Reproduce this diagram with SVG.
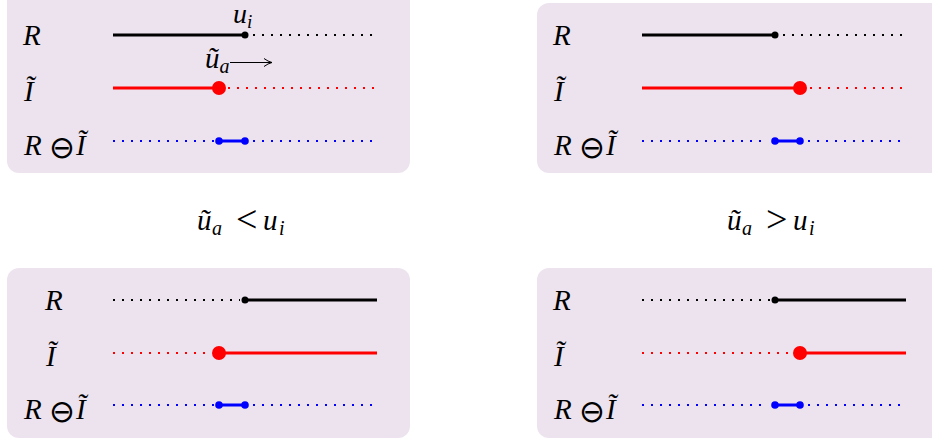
<svg xmlns="http://www.w3.org/2000/svg" width="932" height="442" viewBox="0 0 932 442">
<defs>
<style>
.panel{fill:#ece3ef;}
.sk{stroke:#000;stroke-width:3;fill:none;}
.dk{stroke:#000;stroke-width:2;stroke-dasharray:2 7;fill:none;}
.sr{stroke:#f00;stroke-width:3;fill:none;}
.dr{stroke:#f00;stroke-width:2;stroke-dasharray:2 7;fill:none;}
.sb{stroke:#00f;stroke-width:3;fill:none;}
.db{stroke:#00f;stroke-width:2;stroke-dasharray:2 7;fill:none;}
</style>
<marker id="arr" viewBox="0 0 10 10" refX="9" refY="5" markerWidth="10" markerHeight="10" markerUnits="userSpaceOnUse" orient="auto">
<path d="M1,1 Q5,4 9,5 Q5,6 1,9" fill="none" stroke="#000" stroke-width="1"/>
</marker>
</defs>

<g id="panel-tl">
<rect class="panel" x="7" y="-10" width="403" height="183" rx="12"/>
<g font-family="'Liberation Serif', serif" font-style="italic" font-size="29" fill="#000">
<text x="23" y="45">R</text>
<text x="24" y="101">Ĩ</text>
<text x="24" y="155">R<tspan x="49" dy="3" font-family="'DejaVu Sans', sans-serif" font-style="normal" font-weight="200" font-size="31">⊖</tspan><tspan x="76" dy="-3">Ĩ</tspan></text>
<text x="233" y="23" font-size="28">u<tspan font-size="19" dy="5">i</tspan></text>
<text x="205" y="68">ũ<tspan font-size="20" dy="5">a</tspan></text>
</g>
<line x1="230" y1="62.5" x2="272" y2="62.5" stroke="#000" stroke-width="1" marker-end="url(#arr)"/>
<line class="sk" x1="113" y1="35" x2="245" y2="35"/>
<line class="dk" x1="253" y1="35" x2="376" y2="35"/>
<circle cx="245" cy="35" r="3.5" fill="#000"/>
<line class="sr" x1="113" y1="88" x2="219" y2="88"/>
<line class="dr" x1="228" y1="88" x2="376" y2="88"/>
<circle cx="219" cy="88" r="7" fill="#f00"/>
<line class="db" x1="113" y1="141" x2="215" y2="141"/>
<line class="sb" x1="219" y1="141" x2="245" y2="141"/>
<line class="db" x1="253" y1="141" x2="376" y2="141"/>
<circle cx="219" cy="141" r="3.8" fill="#00f"/>
<circle cx="245" cy="141" r="3.8" fill="#00f"/>
</g>

<g id="panel-tr">
<rect class="panel" x="537" y="3" width="410" height="170" rx="12"/>
<g font-family="'Liberation Serif', serif" font-style="italic" font-size="29" fill="#000">
<text x="553" y="45">R</text>
<text x="554" y="101">Ĩ</text>
<text x="554" y="155">R<tspan x="579" dy="3" font-family="'DejaVu Sans', sans-serif" font-style="normal" font-weight="200" font-size="31">⊖</tspan><tspan x="606" dy="-3">Ĩ</tspan></text>
</g>
<line class="sk" x1="642" y1="35" x2="775" y2="35"/>
<line class="dk" x1="783" y1="35" x2="905" y2="35"/>
<circle cx="775" cy="35" r="3.5" fill="#000"/>
<line class="sr" x1="642" y1="88" x2="800" y2="88"/>
<line class="dr" x1="810" y1="88" x2="905" y2="88"/>
<circle cx="800" cy="88" r="7" fill="#f00"/>
<line class="db" x1="642" y1="141" x2="768" y2="141"/>
<line class="sb" x1="775" y1="141" x2="800" y2="141"/>
<line class="db" x1="808" y1="141" x2="905" y2="141"/>
<circle cx="775" cy="141" r="3.8" fill="#00f"/>
<circle cx="800" cy="141" r="3.8" fill="#00f"/>
</g>

<g id="caption-left" font-family="'Liberation Serif', serif" font-style="italic" font-size="29" fill="#000">
<text x="197" y="230">ũ<tspan x="212" dy="5" font-size="20">a</tspan><tspan x="236" dy="-3" font-style="normal" font-size="38">&lt;</tspan><tspan x="263" dy="-2">u</tspan><tspan x="279" dy="5" font-size="20">i</tspan></text>
</g>
<g id="caption-right" font-family="'Liberation Serif', serif" font-style="italic" font-size="29" fill="#000">
<text x="727" y="230">ũ<tspan x="742" dy="5" font-size="20">a</tspan><tspan x="766" dy="-3" font-style="normal" font-size="38">&gt;</tspan><tspan x="793" dy="-2">u</tspan><tspan x="809" dy="5" font-size="20">i</tspan></text>
</g>

<g id="panel-bl">
<rect class="panel" x="7" y="268" width="403" height="170" rx="12"/>
<g font-family="'Liberation Serif', serif" font-style="italic" font-size="29" fill="#000">
<text x="45" y="310">R</text>
<text x="46" y="366">Ĩ</text>
<text x="24" y="419">R<tspan x="49" dy="3" font-family="'DejaVu Sans', sans-serif" font-style="normal" font-weight="200" font-size="31">⊖</tspan><tspan x="76" dy="-3">Ĩ</tspan></text>
</g>
<line class="dk" x1="113" y1="300" x2="240" y2="300"/>
<line class="sk" x1="245" y1="300" x2="377" y2="300"/>
<circle cx="245" cy="300" r="3.5" fill="#000"/>
<line class="dr" x1="113" y1="353" x2="212" y2="353"/>
<line class="sr" x1="219" y1="353" x2="377" y2="353"/>
<circle cx="219" cy="353" r="7" fill="#f00"/>
<line class="db" x1="113" y1="405" x2="215" y2="405"/>
<line class="sb" x1="219" y1="405" x2="245" y2="405"/>
<line class="db" x1="253" y1="405" x2="376" y2="405"/>
<circle cx="219" cy="405" r="3.8" fill="#00f"/>
<circle cx="245" cy="405" r="3.8" fill="#00f"/>
</g>

<g id="panel-br">
<rect class="panel" x="537" y="268" width="410" height="170" rx="12"/>
<g font-family="'Liberation Serif', serif" font-style="italic" font-size="29" fill="#000">
<text x="553" y="310">R</text>
<text x="554" y="366">Ĩ</text>
<text x="554" y="419">R<tspan x="579" dy="3" font-family="'DejaVu Sans', sans-serif" font-style="normal" font-weight="200" font-size="31">⊖</tspan><tspan x="606" dy="-3">Ĩ</tspan></text>
</g>
<line class="dk" x1="642" y1="300" x2="770" y2="300"/>
<line class="sk" x1="775" y1="300" x2="906" y2="300"/>
<circle cx="775" cy="300" r="3.5" fill="#000"/>
<line class="dr" x1="642" y1="353" x2="792" y2="353"/>
<line class="sr" x1="800" y1="353" x2="906" y2="353"/>
<circle cx="800" cy="353" r="7" fill="#f00"/>
<line class="db" x1="642" y1="405" x2="768" y2="405"/>
<line class="sb" x1="775" y1="405" x2="800" y2="405"/>
<line class="db" x1="808" y1="405" x2="905" y2="405"/>
<circle cx="775" cy="405" r="3.8" fill="#00f"/>
<circle cx="800" cy="405" r="3.8" fill="#00f"/>
</g>
</svg>
